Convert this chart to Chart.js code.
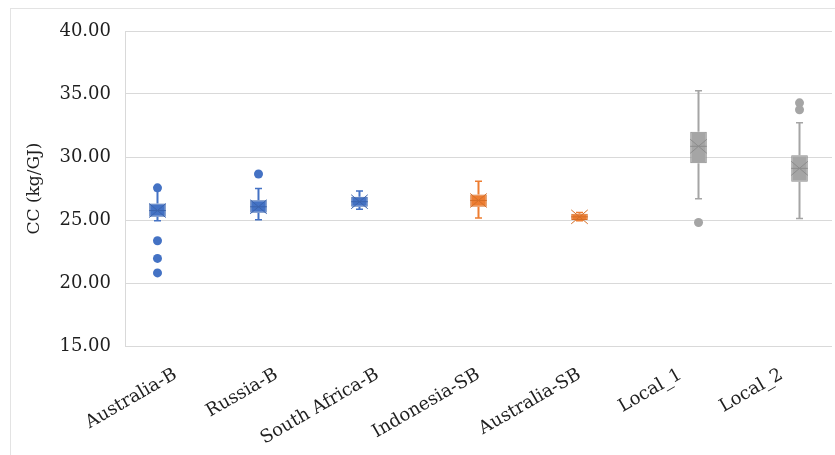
<!DOCTYPE html>
<html>
<head>
<meta charset="utf-8">
<script src="https://cdn.jsdelivr.net/npm/chart.js@4/dist/chart.umd.min.js"></script>
<style>
  html, body { margin: 0; padding: 0; background: #ffffff; }
  #wrap { position: relative; width: 835px; height: 455px; overflow: hidden; }
  #frame { position: absolute; left: 10px; top: 8px; width: 900px; height: 500px; border: 1px solid #e3e3e3; box-sizing: border-box; }
  #chart { position: absolute; left: 0; top: 0; }
</style>
</head>
<body>
<div id="wrap">
  <div id="frame"></div>
  <canvas id="chart" width="835" height="455"></canvas>
</div>
<script>
// Coal carbon content (kg/GJ) by source, summarised as box-and-whisker statistics
const categories = ['Australia-B', 'Russia-B', 'South Africa-B', 'Indonesia-SB', 'Australia-SB', 'Local_1', 'Local_2'];
// which group each category belongs to: 0 = bituminous, 1 = sub-bituminous, 2 = local
const groupOf = [0, 0, 0, 1, 1, 2, 2];
const groupNames = ['Bituminous', 'Sub-bituminous', 'Local'];

const whiskerLow  = [24.95, 25.02, 25.85, 25.15, 24.95, 26.68, 25.12];
const quartile1   = [25.25, 25.58, 26.05, 26.05, 25.00, 29.50, 28.03];
const medians     = [25.75, 26.05, 26.45, 26.55, 25.25, 30.85, 29.10];
const means       = [25.75, 26.05, 26.45, 26.55, 25.25, 30.85, 29.10];
const quartile3   = [26.30, 26.57, 26.85, 27.03, 25.50, 32.00, 30.13];
const whiskerHigh = [27.35, 27.50, 27.30, 28.07, 25.60, 35.26, 32.72];
const outliers    = [[27.55, 23.35, 21.95, 20.80], [28.65], [], [], [], [24.80], [34.30, 33.75]];

const yTicks = [15, 20, 25, 30, 35, 40];

const fills   = ['#4472C4', '#ED7D31', '#A5A5A5'];
const strokes = ['#3A63AD', '#D56F28', '#8C8C8C'];

// One floating-bar dataset per group: each box spans Q1..Q3
const datasets = groupNames.map((name, g) => ({
  label: name,
  data: categories.map((c, i) => groupOf[i] === g ? [quartile1[i], quartile3[i]] : null),
  backgroundColor: fills[g],
  borderColor: strokes[g],
  borderWidth: 1,
  borderSkipped: false,
  categoryPercentage: 0.535,
  barPercentage: 0.92
}));

// Whiskers, median line, mean marker and outliers, placed from each box element
const boxWhiskers = {
  id: 'boxWhiskers',
  afterDatasetsDraw(chart) {
    const ctx = chart.ctx;
    const y = chart.scales.y;
    chart.data.datasets.forEach((ds, g) => {
      const meta = chart.getDatasetMeta(g);
      meta.data.forEach((bar, i) => {
        if (ds.data[i] == null) return;
        const cx = bar.x;
        const hw = bar.width / 2;
        ctx.save();
        // whiskers with end caps
        ctx.strokeStyle = fills[g];
        ctx.lineWidth = 2;
        ctx.lineCap = 'butt';
        const yq1 = y.getPixelForValue(quartile1[i]);
        const yq3 = y.getPixelForValue(quartile3[i]);
        const ylo = y.getPixelForValue(whiskerLow[i]);
        const yhi = y.getPixelForValue(whiskerHigh[i]);
        ctx.beginPath();
        ctx.moveTo(cx, yq3); ctx.lineTo(cx, yhi);
        ctx.moveTo(cx, yq1); ctx.lineTo(cx, ylo);
        ctx.stroke();
        ctx.lineWidth = 1.5;
        ctx.beginPath();
        ctx.moveTo(cx - 3.5, yhi); ctx.lineTo(cx + 3.5, yhi);
        ctx.moveTo(cx - 3.5, ylo); ctx.lineTo(cx + 3.5, ylo);
        ctx.stroke();
        // median line
        const ymed = y.getPixelForValue(medians[i]);
        ctx.strokeStyle = strokes[g];
        ctx.lineWidth = 1;
        ctx.beginPath();
        ctx.moveTo(cx - hw, ymed); ctx.lineTo(cx + hw, ymed);
        ctx.stroke();
        // mean marker (X)
        const ym = y.getPixelForValue(means[i]);
        const mx = hw, my = 7;
        ctx.lineWidth = 1;
        ctx.beginPath();
        ctx.moveTo(cx - mx, ym - my); ctx.lineTo(cx + mx, ym + my);
        ctx.moveTo(cx + mx, ym - my); ctx.lineTo(cx - mx, ym + my);
        ctx.stroke();
        // outliers
        ctx.fillStyle = fills[g];
        outliers[i].forEach(v => {
          ctx.beginPath();
          ctx.arc(cx, y.getPixelForValue(v), 4.5, 0, Math.PI * 2);
          ctx.fill();
        });
        ctx.restore();
      });
    });
  }
};

new Chart(document.getElementById('chart'), {
  type: 'bar',
  data: { labels: categories, datasets },
  plugins: [boxWhiskers],
  options: {
    responsive: false,
    animation: false,
    layout: { padding: { left: 16, top: 31, right: 3, bottom: 0 } },
    plugins: { legend: { display: false }, tooltip: { enabled: false } },
    scales: {
      x: {
        grid: { display: false, drawTicks: false },
        border: { display: false },
        ticks: {
          minRotation: 30, maxRotation: 30, padding: 18,
          color: '#1f1f1f',
          font: { family: 'DejaVu Serif', size: 18 }
        },
        afterFit(s) { s.height = 109; }
      },
      y: {
        min: 15, max: 40,
        afterBuildTicks(s) { s.ticks = yTicks.map(v => ({ value: v })); },
        grid: { color: '#d9d9d9', lineWidth: 1, drawTicks: false },
        border: { color: '#d9d9d9' },
        ticks: {
          padding: 14,
          color: '#1f1f1f',
          font: { family: 'DejaVu Serif', size: 18 },
          callback: v => Number(v).toFixed(2)
        },
        title: {
          display: true, text: 'CC (kg/GJ)', color: '#1f1f1f',
          font: { family: 'DejaVu Serif', size: 17 },
          padding: { top: 8, bottom: 0 }
        },
        afterFit(s) { s.width = 109; }
      }
    }
  }
});
</script>
</body>
</html>
